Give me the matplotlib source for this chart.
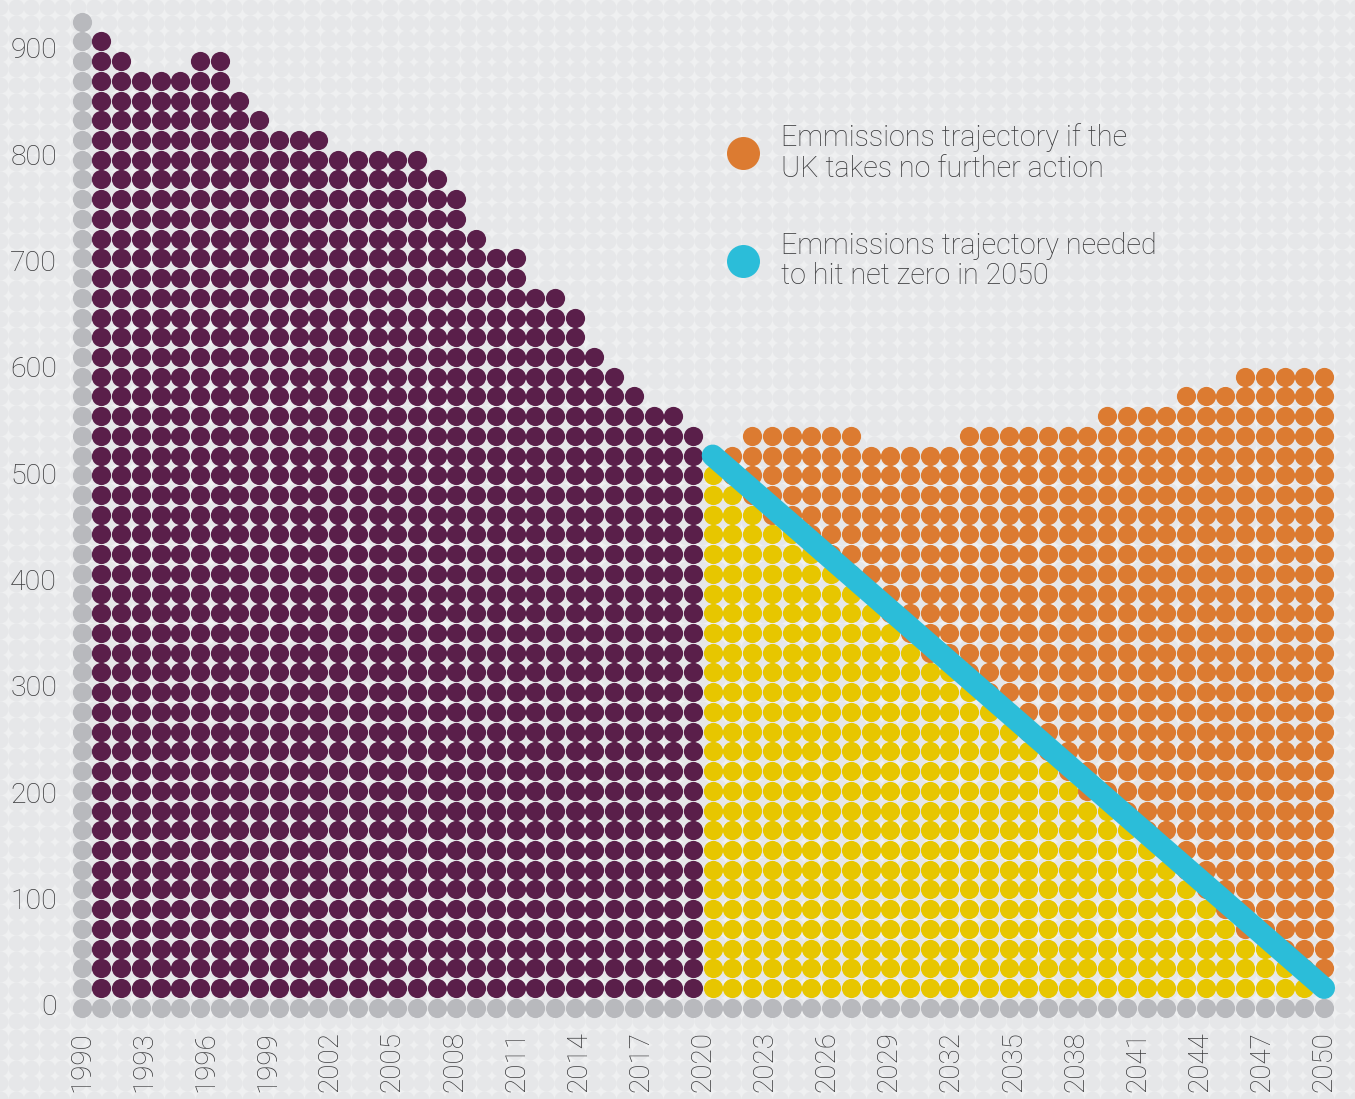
import numpy as np
import matplotlib
matplotlib.use("Agg")
import matplotlib.pyplot as plt

# ---------------- data ----------------
# Each dot stands for a fixed amount of emissions (MtCO2e); columns are dot columns.
DOT_VALUE = 18.55
# historic emissions: number of dots in dot-columns 1..31
historic_dots = [49, 48, 47, 47, 47, 48, 48, 46, 45, 44, 44, 44, 43, 43, 43, 43,
                 43, 42, 41, 39, 38, 38, 36, 36, 35, 33, 32, 31, 30, 30, 29]
# projection if no further action: dots in dot-columns 32..63
no_action_dots = [28, 28, 29, 29, 29, 29, 29, 29, 28, 28, 28, 28, 28, 29, 29, 29,
                  29, 29, 29, 29, 30, 30, 30, 30, 31, 31, 31, 32, 32, 32, 32, 32]
# part of the projection that fits under the net-zero pathway
net_zero_dots = [27, 26, 25, 24, 24, 23, 22, 21, 20, 19, 18, 17, 17, 16, 15, 14,
                 13, 12, 11, 10, 10, 9, 8, 7, 6, 5, 4, 3, 3, 2, 1, 0]
# net-zero pathway line: start/end in dot rows at first/last projection column
net_zero_path_rows = [28, 1]
axis_dots_height = 50

year_ticks = list(range(1990, 2051, 3))
value_ticks = list(range(0, 901, 100))

legend_labels = ["Emmissions trajectory if the\nUK takes no further action",
                 "Emmissions trajectory needed\nto hit net zero in 2050"]

# ---------------- style ----------------
C_PURPLE = "#5a1f4a"
C_ORANGE = "#dc7b31"
C_YELLOW = "#e7c600"
C_CYAN = "#2bbdd9"
C_GRAY = "#b8b9bd"
C_BG = "#e6e7e9"
C_BG_LIGHT = "#eff0f1"
C_TEXT = "#38383a"
FONT = ["Roboto", "DejaVu Sans"]
FS_TICK_Y = 20.5
FS_TICK_X = 20
FS_LEG = 20.7

W, H, DPI = 1355, 1099, 100
PITCH = 19.72          # px between dot centres
X0, Y0 = 81.7, 1007.7  # px position of the corner axis dot
DOT_D = 19.2           # dot diameter in px

def s_of(px):
    return (px * 72.0 / DPI) ** 2

fig = plt.figure(figsize=(W / DPI, H / DPI), dpi=DPI)
fig.patch.set_facecolor(C_BG_LIGHT)
ax = fig.add_axes([0, 0, 1, 1])
ax.set_xlim(-X0 / PITCH, (W - X0) / PITCH)
ax.set_ylim((Y0 - H) / PITCH, Y0 / PITCH)
ax.axis("off")
ax.set_facecolor(C_BG_LIGHT)

# subtle background texture
bp = 15.6 / PITCH
bx = np.arange(-X0 / PITCH, (W - X0) / PITCH + bp, bp)
by = np.arange((Y0 - H) / PITCH, Y0 / PITCH + bp, bp)
BX, BY = np.meshgrid(bx, by)
ax.scatter(BX.ravel(), BY.ravel(), s=s_of(15.9), color=C_BG, lw=0, zorder=0)

n_cols = 1 + len(historic_dots) + len(no_action_dots)

# axis dots
gx = [0] * (axis_dots_height + 1) + list(range(1, n_cols))
gy = list(range(axis_dots_height + 1)) + [0] * (n_cols - 1)
ax.scatter(gx, gy, s=s_of(DOT_D), color=C_GRAY, lw=0, zorder=2)

# historic dots
px, py = [], []
for i, h in enumerate(historic_dots):
    c = 1 + i
    for r in range(1, h + 1):
        px.append(c); py.append(r)
ax.scatter(px, py, s=s_of(DOT_D), color=C_PURPLE, lw=0, zorder=2)

# projections
first_proj = 1 + len(historic_dots)
ox, oy, yx, yy = [], [], [], []
for i, (h, nz) in enumerate(zip(no_action_dots, net_zero_dots)):
    c = first_proj + i
    for r in range(1, h + 1):
        if r <= nz:
            yx.append(c); yy.append(r)
        else:
            ox.append(c); oy.append(r)
ax.scatter(ox, oy, s=s_of(DOT_D), color=C_ORANGE, lw=0, zorder=2)
ax.scatter(yx, yy, s=s_of(DOT_D), color=C_YELLOW, lw=0, zorder=2)

# net-zero pathway line
ax.plot([first_proj, n_cols - 1], net_zero_path_rows, color=C_CYAN, lw=22 * 72 / DPI,
        solid_capstyle="round", zorder=3)

# y tick labels
for v in value_ticks:
    ax.text((57 - X0) / PITCH, v / DOT_VALUE, str(v), ha="right", va="center",
            fontsize=FS_TICK_Y, color=C_TEXT, family=FONT, fontweight="light")

# x tick labels
span_years = year_ticks[-1] - year_ticks[0]
for yr in year_ticks:
    c = (yr - year_ticks[0]) * (n_cols - 1) / span_years
    ax.text(c, (Y0 - 1031) / PITCH, str(yr), ha="center", va="top", rotation=90,
            fontsize=FS_TICK_X, color=C_TEXT, family=FONT, fontweight="light")

# legend
leg_colors = [C_ORANGE, C_CYAN]
leg_y_px = [153, 261]
for lab, col, ypx in zip(legend_labels, leg_colors, leg_y_px):
    yy_ = (Y0 - ypx) / PITCH
    ax.scatter([(743 - X0) / PITCH], [yy_], s=s_of(33), color=col, lw=0, zorder=4)
    ax.text((781 - X0) / PITCH, yy_, lab, ha="left", va="center", fontsize=FS_LEG,
            color=C_TEXT, family=FONT, fontweight="light", linespacing=1.12)

fig.savefig("out.png", dpi=DPI, facecolor=fig.get_facecolor())
